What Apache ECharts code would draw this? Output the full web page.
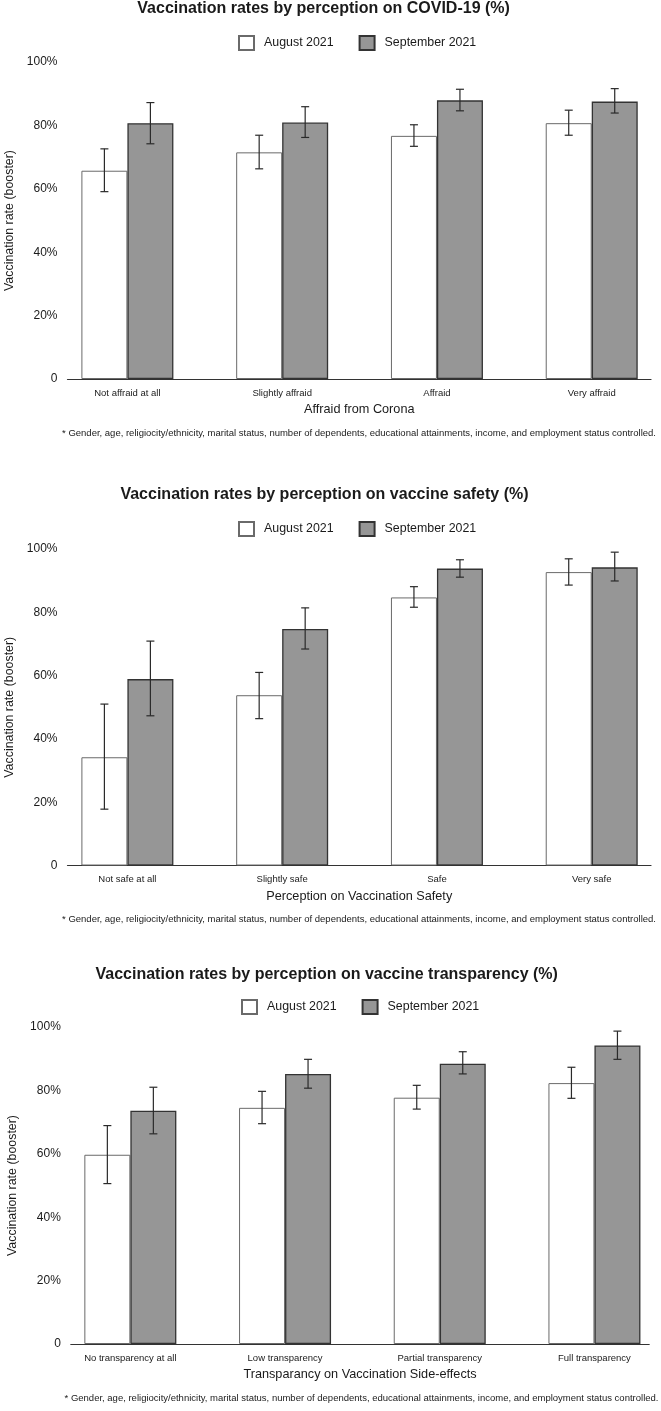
<!DOCTYPE html>
<html>
<head>
<meta charset="utf-8">
<script src="https://cdn.jsdelivr.net/npm/echarts@6/dist/echarts.min.js"></script>
<style>
html,body{margin:0;padding:0;background:#fff;}
#chart{width:661px;height:1411px;}
</style>
</head>
<body>
<div id="chart"></div>
<script>
// ---------- DATA ----------
const seriesNames = ['August 2021', 'September 2021'];
const yTicks = [0, 20, 40, 60, 80, 100];

const titles = [
  'Vaccination rates by perception on COVID-19 (%)',
  'Vaccination rates by perception on vaccine safety (%)',
  'Vaccination rates by perception on vaccine transparency (%)'
];
const xAxisNames = ['Affraid from Corona', 'Perception on Vaccination Safety', 'Transparancy on Vaccination Side-effects'];
const yAxisName = 'Vaccination rate (booster)';
const footnote = '* Gender, age, religiocity/ethnicity, marital status, number of dependents, educational attainments, income, and employment status controlled.';

const categories1 = ['Not affraid at all', 'Slightly affraid', 'Affraid', 'Very affraid'];
const aug1 = [65.7, 71.5, 76.7, 80.7];
const augLow1 = [59.1, 66.3, 73.4, 76.9];
const augHigh1 = [72.6, 76.9, 80.2, 84.8];
const sep1 = [80.7, 80.9, 87.9, 87.5];
const sepLow1 = [74.2, 76.2, 84.6, 83.9];
const sepHigh1 = [87.2, 85.9, 91.4, 91.6];

const categories2 = ['Not safe at all', 'Slightly safe', 'Safe', 'Very safe'];
const aug2 = [34.2, 53.8, 84.7, 92.7];
const augLow2 = [17.8, 46.4, 81.6, 88.6];
const augHigh2 = [51.0, 61.0, 88.1, 96.9];
const sep2 = [58.9, 74.7, 93.8, 94.2];
const sepLow2 = [47.3, 68.4, 91.1, 89.9];
const sepHigh2 = [70.9, 81.4, 96.6, 99.0];

const categories3 = ['No transparency at all', 'Low transparency', 'Partial transparency', 'Full transparency'];
const aug3 = [59.7, 74.5, 77.7, 82.3];
const augLow3 = [50.6, 69.5, 74.1, 77.5];
const augHigh3 = [68.9, 79.7, 81.6, 87.3];
const sep3 = [73.6, 85.2, 88.4, 94.2];
const sepLow3 = [66.3, 80.7, 85.2, 89.8];
const sepHigh3 = [81.0, 89.8, 92.2, 98.7];

// ---------- LAYOUT / STYLE ----------
const FONT = '"Liberation Sans", Arial, Helvetica, sans-serif';
const TXT = '#1a1a1a';
const BAR_W = 46;
const panels = [
  {cats: categories1, aug: aug1, augLo: augLow1, augHi: augHigh1, sep: sep1, sepLo: sepLow1, sepHi: sepHigh1,
   grid: {left: 67.5, top: 62, width: 583.5, height: 317}, xmin: -0.387, xmax: 3.383,
   titleX: 323.6, titleTop: 1, legendLeft: 238, legendTop: 35, footX: 359, footTop: 428},
  {cats: categories2, aug: aug2, augLo: augLow2, augHi: augHigh2, sep: sep2, sepLo: sepLow2, sepHi: sepHigh2,
   grid: {left: 67.5, top: 549, width: 583.5, height: 316.5}, xmin: -0.387, xmax: 3.383,
   titleX: 324.5, titleTop: 486.5, legendLeft: 238, legendTop: 521, footX: 359, footTop: 914.5},
  {cats: categories3, aug: aug3, augLo: augLow3, augHi: augHigh3, sep: sep3, sepLo: sepLow3, sepHi: sepHigh3,
   grid: {left: 70.8, top: 1027, width: 578.4, height: 317}, xmin: -0.385, xmax: 3.354,
   titleX: 326.7, titleTop: 966.5, legendLeft: 241, legendTop: 999, footX: 361.5, footTop: 1393.5}
];

const augStyle = {color: '#ffffff', borderColor: '#6a6a6a', borderWidth: 1};
const sepStyle = {color: '#969696', borderColor: '#333333', borderWidth: 1.3};

function errRender(offset) {
  return function (params, api) {
    const x = api.value(0);
    const lo = api.coord([x, api.value(1)]);
    const hi = api.coord([x, api.value(2)]);
    const cx = lo[0] + offset;
    const hw = 4;
    const st = {stroke: '#2a2a2a', lineWidth: 1.2};
    return {
      type: 'group',
      children: [
        {type: 'line', shape: {x1: cx, y1: hi[1], x2: cx, y2: lo[1]}, style: st},
        {type: 'line', shape: {x1: cx - hw, y1: hi[1], x2: cx + hw, y2: hi[1]}, style: st},
        {type: 'line', shape: {x1: cx - hw, y1: lo[1], x2: cx + hw, y2: lo[1]}, style: st}
      ]
    };
  };
}

const option = {
  backgroundColor: '#ffffff',
  animation: false,
  textStyle: {fontFamily: FONT, color: TXT},
  title: [],
  legend: [],
  grid: [],
  xAxis: [],
  yAxis: [],
  series: []
};

panels.forEach((p, i) => {
  option.title.push({
    text: titles[i], left: p.titleX, top: p.titleTop, textAlign: 'center', padding: 0,
    textStyle: {fontFamily: FONT, fontSize: 16, fontWeight: 'bold', color: TXT}
  });
  option.title.push({
    text: footnote, left: p.footX, top: p.footTop, textAlign: 'center', padding: 0,
    textStyle: {fontFamily: FONT, fontSize: 9.5, fontWeight: 'normal', color: TXT}
  });
  option.legend.push({
    data: seriesNames, left: p.legendLeft, top: p.legendTop, padding: 0,
    icon: 'rect',
    itemWidth: 15, itemHeight: 14, itemGap: 25, orient: 'horizontal',
    textStyle: {fontFamily: FONT, fontSize: 12.4, color: TXT, padding: [0, 0, 0, 5]}
  });
  option.grid.push(Object.assign({containLabel: false, outerBoundsMode: 'none'}, p.grid));
  option.xAxis.push({
    type: 'value', gridIndex: i, min: p.xmin, max: p.xmax,
    name: xAxisNames[i], nameLocation: 'middle', nameGap: 24,
    nameTextStyle: {fontFamily: FONT, fontSize: 12.7, color: TXT},
    axisLine: {show: true, lineStyle: {color: '#333', width: 1.2}},
    axisTick: {show: false},
    splitLine: {show: false},
    axisLabel: {
      customValues: p.cats.map((c, k) => k),
      formatter: v => p.cats[Math.round(v)] || '',
      fontFamily: FONT, fontSize: 9.5, color: TXT, margin: 9
    }
  });
  option.yAxis.push({
    type: 'value', gridIndex: i, min: yTicks[0], max: yTicks[yTicks.length - 1], interval: 20,
    name: yAxisName, nameLocation: 'middle', nameGap: 52,
    nameTextStyle: {fontFamily: FONT, fontSize: 12.4, color: TXT},
    axisLine: {show: false}, axisTick: {show: false}, splitLine: {show: false},
    axisLabel: {formatter: v => (v === 0 ? '0' : v + '%'), fontFamily: FONT, fontSize: 12, color: TXT, margin: 10}
  });
  option.series.push({
    name: seriesNames[0], type: 'bar', xAxisIndex: i, yAxisIndex: i,
    barWidth: BAR_W, barGap: '0%', itemStyle: augStyle,
    data: p.aug.map((v, k) => [k, v])
  });
  option.series.push({
    name: seriesNames[1], type: 'bar', xAxisIndex: i, yAxisIndex: i,
    barWidth: BAR_W, barGap: '0%', itemStyle: sepStyle,
    data: p.sep.map((v, k) => [k, v])
  });
  option.series.push({
    name: 'err-aug-' + i, type: 'custom', xAxisIndex: i, yAxisIndex: i, z: 5,
    renderItem: errRender(-BAR_W / 2), encode: {x: 0, y: [1, 2]},
    data: p.augLo.map((v, k) => [k, v, p.augHi[k]])
  });
  option.series.push({
    name: 'err-sep-' + i, type: 'custom', xAxisIndex: i, yAxisIndex: i, z: 5,
    renderItem: errRender(BAR_W / 2), encode: {x: 0, y: [1, 2]},
    data: p.sepLo.map((v, k) => [k, v, p.sepHi[k]])
  });
});

const chart = echarts.init(document.getElementById('chart'), null, {renderer: 'canvas'});
chart.setOption(option);
</script>
</body>
</html>
